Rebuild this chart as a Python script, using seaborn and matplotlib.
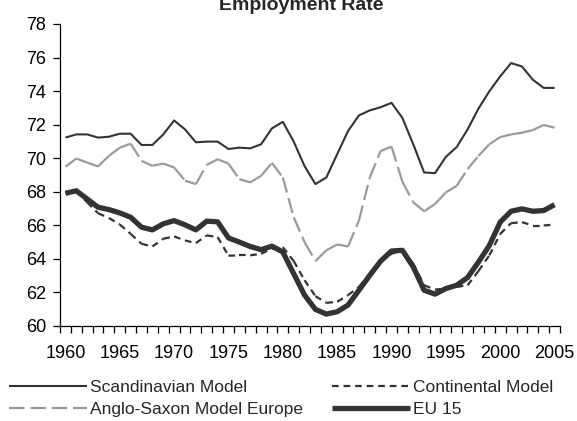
import matplotlib
matplotlib.use("Agg")
import matplotlib.pyplot as plt
from matplotlib.collections import LineCollection
import seaborn as sns
import numpy as np
import pandas as pd

years = list(range(1960, 2006))

scandinavian = [71.23, 71.42, 71.42, 71.23, 71.28, 71.46, 71.46, 70.79, 70.79, 71.42,
                72.25, 71.72, 70.95, 70.99, 70.99, 70.55, 70.63, 70.59, 70.83, 71.78,
                72.17, 70.99, 69.53, 68.46, 68.85, 70.24, 71.62, 72.55, 72.85, 73.04,
                73.30, 72.40, 70.83, 69.15, 69.11, 70.08, 70.67, 71.72, 72.96, 73.99,
                74.88, 75.67, 75.47, 74.68, 74.19, 74.19]

continental = [67.91, 68.06, 67.37, 66.72, 66.44, 66.05, 65.49, 64.90, 64.74, 65.20,
               65.34, 65.10, 64.94, 65.40, 65.30, 64.19, 64.21, 64.21, 64.31, 64.60,
               64.70, 63.87, 62.73, 61.78, 61.38, 61.44, 61.84, 62.33, 63.12, 63.81,
               64.31, 64.51, 63.72, 62.43, 62.17, 62.23, 62.33, 62.43, 63.28, 64.21,
               65.49, 66.13, 66.19, 65.99, 65.99, 66.05]

anglo_saxon = [69.49, 69.98, 69.74, 69.51, 70.14, 70.63, 70.87, 69.84, 69.55, 69.68,
               69.45, 68.66, 68.46, 69.60, 69.94, 69.68, 68.75, 68.56, 68.95, 69.72,
               68.85, 66.48, 65.00, 63.87, 64.51, 64.86, 64.74, 66.28, 68.85, 70.43,
               70.69, 68.60, 67.37, 66.84, 67.27, 67.96, 68.36, 69.35, 70.14, 70.83,
               71.26, 71.42, 71.52, 71.68, 71.98, 71.82]

eu15 = [67.91, 68.06, 67.57, 67.08, 66.94, 66.74, 66.48, 65.89, 65.73, 66.09,
        66.28, 66.03, 65.73, 66.25, 66.21, 65.25, 65.00, 64.74, 64.55, 64.76,
        64.41, 63.12, 61.84, 60.99, 60.71, 60.85, 61.25, 62.13, 63.02, 63.87,
        64.47, 64.51, 63.52, 62.13, 61.90, 62.23, 62.43, 62.89, 63.81, 64.80,
        66.19, 66.84, 66.98, 66.84, 66.88, 67.23]

series_names = ["Scandinavian Model", "Continental Model", "Anglo-Saxon Model Europe", "EU 15"]
y_ticks = [60, 62, 64, 66, 68, 70, 72, 74, 76, 78]
x_labels = [1960, 1965, 1970, 1975, 1980, 1985, 1990, 1995, 2000, 2005]

sns.set_theme(style="ticks")
plt.rcParams["font.family"] = ["Liberation Sans", "DejaVu Sans"]
FS = 13
LFS = 12.5

fig = plt.figure(figsize=(5.77, 4.21), dpi=100)
ax = fig.add_axes([60 / 577, 1 - 326 / 421, 500 / 577, 302 / 421])

styles = {
    "Scandinavian Model": dict(color="#333333", lw=1.5),
    "Continental Model": dict(color="#333333", lw=1.6, dashes=(3.0, 2.2)),
    "Anglo-Saxon Model Europe": dict(color="#9a9a9a", lw=1.6, dashes=(7.0, 2.6)),
    "EU 15": dict(color="#333333", lw=3.8),
}
data = {"Scandinavian Model": scandinavian, "Continental Model": continental,
        "Anglo-Saxon Model Europe": anglo_saxon, "EU 15": eu15}

handles = {}
for name in series_names:
    st = dict(styles[name])
    dashes = st.pop("dashes", None)
    df = pd.DataFrame({"year": years, "value": data[name]})
    sns.lineplot(data=df, x="year", y="value", ax=ax, label=name,
                 color=st["color"], linewidth=st["lw"], legend=False)
    line = ax.get_lines()[-1]
    line.set_solid_capstyle("butt")
    line.set_solid_joinstyle("round")
    if dashes is not None:
        # dash pattern restarts on every segment, as in the original chart
        xy = line.get_xydata()
        segs = np.stack([xy[:-1], xy[1:]], axis=1)
        lc = LineCollection(segs, colors=st["color"], linewidths=st["lw"],
                            linestyles=[(0, dashes)], capstyle="butt")
        ax.add_collection(lc)
        line.set_dashes(dashes)
        line.set_dash_capstyle("butt")
        line.remove()
    handles[name] = line

ax.set_xlim(1959.5, 2005.5)
ax.set_ylim(60, 78)
ax.set_yticks(y_ticks)
ax.set_xticks(x_labels)
ax.set_xticks(np.arange(1959.5, 2006, 1.0), minor=True)
ax.tick_params(axis="x", which="major", length=0, pad=14, labelsize=FS, colors="black")
ax.tick_params(axis="x", which="minor", length=5, width=0.9, color="black")
ax.tick_params(axis="y", length=5, width=0.9, pad=5, labelsize=FS, colors="black")
ax.set_xlabel("")
ax.set_ylabel("")
for s in ["top", "right"]:
    ax.spines[s].set_visible(False)
for s in ["left", "bottom"]:
    ax.spines[s].set_linewidth(0.9)
    ax.spines[s].set_color("black")

fig.text(301 / 577, 1 - 10 / 421, "Employment Rate", ha="center", va="baseline",
         fontsize=14, fontweight="bold")

order = ["Scandinavian Model", "Anglo-Saxon Model Europe", "Continental Model", "EU 15"]
leg = fig.legend(handles=[handles[n] for n in order], labels=order, loc="upper left",
                 bbox_to_anchor=(9 / 577, 1 - 380 / 421), ncol=2, frameon=False,
                 fontsize=LFS, handlelength=4.5, handletextpad=0.15,
                 columnspacing=1.7, labelspacing=0.4, borderpad=0, borderaxespad=0)

fig.savefig("out.png", dpi=100)
